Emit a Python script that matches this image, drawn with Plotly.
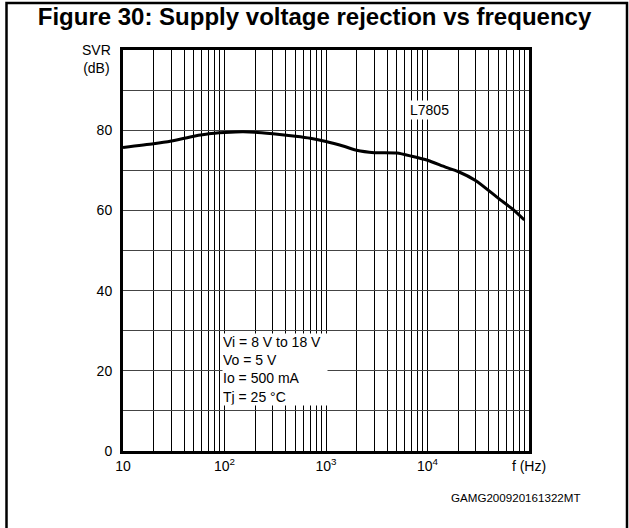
import plotly.graph_objects as go

# Data
freq_hz = [10, 20, 30, 50, 70, 100, 150, 200, 300, 500, 700, 1000, 1500, 2000,
           3000, 5000, 7000, 10000, 15000, 20000, 30000, 50000, 70000, 90000]
svr_db = [75.7, 76.6, 77.3, 78.5, 79.1, 79.4, 79.6, 79.5, 79.1, 78.5, 78.0, 77.2,
          76.0, 75.0, 74.4, 74.3, 73.5, 72.5, 70.8, 69.7, 67.4, 63.0, 60.2, 57.6]

x_label_vals = [10, 100, 1000, 10000, 100000]
x_label_text = ["10", "10<sup>2</sup>", "10<sup>3</sup>", "10<sup>4</sup>", "f (Hz)"]
y_label_vals = [0, 20, 40, 60, 80]
y_label_text = ["0", "20", "40", "60", "80"]

series_name = "L7805"
conditions = ["Vi = 8 V to 18 V", "Vo = 5 V", "Io = 500 mA", "Tj = 25 °C"]
title_text = "Figure 30: Supply voltage rejection vs frequency"
code_text = "GAMG200920161322MT"

FONT = "Liberation Sans, Arial, sans-serif"

# grid positions (1..9 x each decade)
x_grid = [m * 10 ** d for d in range(1, 5) for m in range(1, 10)] + [100000]
x_text = [x_label_text[x_label_vals.index(v)] if v in x_label_vals else "" for v in x_grid]
y_grid = list(range(0, 101, 10))
y_text = [y_label_text[y_label_vals.index(v)] if v in y_label_vals else "" for v in y_grid]

fig = go.Figure()
fig.add_trace(go.Scatter(x=freq_hz, y=svr_db, mode="lines",
                         line=dict(color="black", width=3, shape="spline", smoothing=0.6),
                         showlegend=False, hoverinfo="skip"))

fig.update_layout(
    width=629, height=528, autosize=False,
    margin=dict(l=123, r=100, t=50, b=77),
    paper_bgcolor="white", plot_bgcolor="white",
    font=dict(family=FONT, size=14, color="black"),
    hovermode=False,
    title=dict(text="<b>" + title_text + "</b>", x=0.5, xanchor="center",
               y=1 - 17 / 528, yanchor="middle", yref="container",
               font=dict(family=FONT, size=24, color="black")),
    xaxis=dict(type="log", range=[1, 5], tickmode="array", tickvals=x_grid, ticktext=x_text,
               showgrid=True, gridcolor="black", gridwidth=1, ticks="",
               showline=True, linecolor="black", linewidth=3, mirror=True,
               zeroline=False, tickfont=dict(size=14)),
    yaxis=dict(range=[0, 100], tickmode="array", tickvals=y_grid, ticktext=y_text,
               showgrid=True, gridcolor="#444", gridwidth=1, ticks="",
               showline=True, linecolor="black", linewidth=3, mirror=True,
               zeroline=False, tickfont=dict(size=14), ticklabelstandoff=5),
)

# Conditions box
fig.add_annotation(x=1.975, y=29.4, xref="x", yref="y", xanchor="left", yanchor="top",
                   text="<br>".join(conditions), align="left", showarrow=False,
                   bgcolor="white", borderpad=0, width=104,
                   font=dict(family=FONT, size=14, color="black"))
# Series label
fig.add_annotation(x=4.02, y=85, xref="x", yref="y", xanchor="center", yanchor="middle",
                   text=series_name, showarrow=False, bgcolor="white", borderpad=1,
                   font=dict(family=FONT, size=14, color="black"))
# Y axis unit label
fig.add_annotation(x=(96 - 123) / 406, y=1.0, xref="paper", yref="paper",
                   xanchor="center", yanchor="top", yshift=10,
                   text="SVR<br>(dB)", showarrow=False, align="center",
                   font=dict(family=FONT, size=14, color="black"))
# Figure code
fig.add_annotation(x=(583 - 123) / 406, y=(451 - 497) / 401, xref="paper", yref="paper",
                   xanchor="right", yanchor="middle",
                   text=code_text, showarrow=False,
                   font=dict(family=FONT, size=11.6, color="black"))
# Outer frame
fig.add_shape(type="rect", xref="paper", yref="paper",
              x0=(6.5 - 123) / 406, x1=(627 - 123) / 406,
              y0=(451 - 540) / 401, y1=(451 - 3) / 401,
              line=dict(color="black", width=2.5), layer="below")

fig.write_html("out.html", config={"displayModeBar": False},
               post_script="document.body.style.margin='0';")
